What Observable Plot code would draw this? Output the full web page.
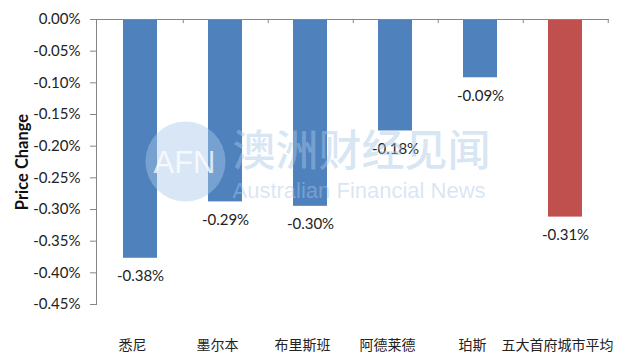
<!DOCTYPE html>
<html>
<head>
<meta charset="utf-8">
<script src="https://cdn.jsdelivr.net/npm/d3@7"></script>
<script src="https://cdn.jsdelivr.net/npm/@observablehq/plot@0.6"></script>
<style>
  html, body { margin: 0; padding: 0; background: #fff; }
  #chart { width: 626px; height: 356px; }
</style>
</head>
<body>
<div id="chart"></div>
<script>
// Data
const categories = ["悉尼", "墨尔本", "布里斯班", "阿德莱德", "珀斯", "五大首府城市平均"];
const values = [-0.377, -0.288, -0.295, -0.176, -0.092, -0.312];
const valueLabels = ["-0.38%", "-0.29%", "-0.30%", "-0.18%", "-0.09%", "-0.31%"];
const yTicks = [0, -0.05, -0.10, -0.15, -0.20, -0.25, -0.30, -0.35, -0.40, -0.45];
const yTitle = "Price Change";
const watermark = ["澳洲财经见闻", "Australian Financial News", "AFN"];

const data = categories.map((c, i) => ({
  city: c, value: values[i], label: valueLabels[i], avg: i === categories.length - 1
}));

const W = 626, H = 356, mL = 96, mR = 17, mT = 19, mB = 52;
const step = (W - mL - mR) / categories.length;
const axisColor = "#868686";
const textColor = "#222";
const font = "Lato, 'Noto Sans CJK SC', sans-serif";

const chart = Plot.plot({
  width: W, height: H,
  marginLeft: mL, marginRight: mR, marginTop: mT, marginBottom: mB,
  style: { fontFamily: font, fontSize: "15px", color: textColor, background: "#fff" },
  x: { domain: categories, paddingInner: 0.6, paddingOuter: 0.3, axis: null },
  y: { domain: [-0.45, 0], axis: null },
  marks: [
    Plot.barY(data, {
      x: "city", y: "value",
      fill: d => d.avg ? "#C0504D" : "#4F81BD"
    }),
    // axes
    Plot.axisY({
      ticks: yTicks, tickSize: 6, tickPadding: 10, stroke: axisColor,
      tickFormat: d => (Math.abs(d) < 1e-9 ? 0 : d).toFixed(2) + "%",
      fill: textColor, fontSize: 15, label: null
    }),
    Plot.frame({ anchor: "left", stroke: axisColor }),
    Plot.ruleY([0], { stroke: axisColor }),
    Plot.ruleX(categories, { x: d => d, y1: 0, y2: -0.0065, dx: step / 2, stroke: axisColor }),
    // category labels
    Plot.text(categories, {
      x: d => d, frameAnchor: "bottom", dy: 41, dx: -8, lineAnchor: "middle",
      fontFamily: "'Noto Sans CJK SC', sans-serif", fontSize: 14, fill: textColor
    }),
    // value labels
    Plot.text(data, {
      x: "city", y: "value", text: "label", dy: 18, lineAnchor: "middle",
      fontSize: 15, fill: textColor
    }),
    // y-axis title
    Plot.text([yTitle], {
      frameAnchor: "left", textAnchor: "middle", rotate: -90, dx: -74, fontWeight: "bold",
      fontSize: 16.5, fill: "#111", lineAnchor: "middle"
    }),
    // watermark
    Plot.dot([0], {
      frameAnchor: "top-left", dx: 89, dy: 142, r: 40,
      fill: "#a8c8e8", fillOpacity: 0.45, stroke: "none"
    }),
    Plot.text([watermark[2]], {
      frameAnchor: "top-left", textAnchor: "middle", dx: 88, dy: 144, fontSize: 31,
      fontFamily: "'Liberation Sans', sans-serif", fill: "#fff", fillOpacity: 0.75,
      lineAnchor: "middle"
    }),
    Plot.text([watermark[0]], {
      frameAnchor: "top-left", dx: 136, dy: 133, fontSize: 43, textAnchor: "start",
      fontFamily: "'Noto Sans CJK SC', sans-serif", fontWeight: 500,
      fill: "#a8c8e8", fillOpacity: 0.45, lineAnchor: "middle"
    }),
    Plot.text([watermark[1]], {
      frameAnchor: "top-left", dx: 136, dy: 171, fontSize: 22, textAnchor: "start",
      fontFamily: "'Liberation Sans', sans-serif",
      fill: "#a8c8e8", fillOpacity: 0.45, lineAnchor: "middle"
    })
  ]
});

document.getElementById("chart").appendChild(chart);
</script>
</body>
</html>
